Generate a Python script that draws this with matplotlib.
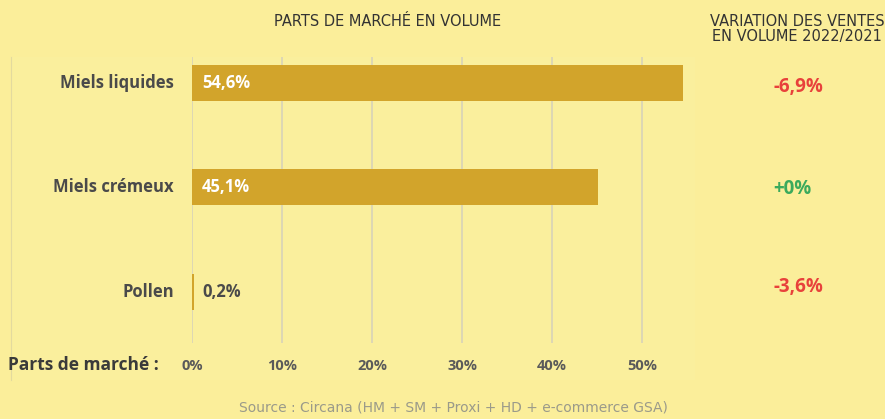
import matplotlib.pyplot as plt
from matplotlib.patches import Rectangle

categories = ["Miels liquides", "Miels crémeux", "Pollen"]
shares = [54.6, 45.1, 0.2]
share_labels = ["54,6%", "45,1%", "0,2%"]
variations = ["-6,9%", "+0%", "-3,6%"]
variation_colors = ["#E8413B", "#3BAA5C", "#E8413B"]
ticks = [0, 10, 20, 30, 40, 50]
tick_labels = ["0%", "10%", "20%", "30%", "40%", "50%"]

W, H = 885, 419
bg = "#FBEE9A"
panel = "#FAEF9D"
bar_color = "#D2A42B"
text_gray = "#4A4A4A"

fig = plt.figure(figsize=(W / 100, H / 100), dpi=100)
fig.patch.set_facecolor(bg)

# slightly lighter panel behind the chart
fig.patches.append(Rectangle((11 / W, 1 - 380 / H), (695 - 11) / W, (380 - 57) / H,
                             transform=fig.transFigure, facecolor=panel,
                             edgecolor="none", zorder=-5))
fig.add_artist(plt.Line2D([11 / W, 11 / W], [1 - 380 / H, 1 - 57 / H],
                          transform=fig.transFigure, color="#E3DA9E", lw=0.8,
                          zorder=-4))

# axes: x=0 at 192 px, 9 px per percent
x0 = 192
xmax = 58
ax = fig.add_axes([x0 / W, 1 - 343 / H, xmax * 9 / W, (343 - 57) / H], zorder=1)
ax.set_facecolor("none")
ypos = [0, 1, 2]
ax.barh(ypos, shares, height=0.345, color=bar_color, zorder=2)
ax.set_xlim(0, xmax)
ax.set_ylim(2.49, -0.25)
for t in ticks:
    ax.axvline(t, color="#D8D3B8", lw=1.2, zorder=1)
for s in ax.spines.values():
    s.set_visible(False)
ax.set_xticks([])
ax.set_yticks([])

for i, (cat, v, lab) in enumerate(zip(categories, shares, share_labels)):
    ax.text(-2.0, i, cat, ha="right", va="center", fontsize=12,
            fontweight="bold", color=text_gray, family="Open Sans")
    col = "white" if v > 5 else text_gray
    ax.text(1.1, i, lab, ha="left", va="center", fontsize=12,
            fontweight="bold", color=col, family="Open Sans", zorder=3)

# variation column
var_y = [87, 189, 287]
for y, v, c in zip(var_y, variations, variation_colors):
    fig.text(773 / W, 1 - y / H, v, ha="left", va="center", fontsize=13.5,
             fontweight="bold", color=c, family="Open Sans")

# tick labels row
for t, lab in zip(ticks, tick_labels):
    fig.text((x0 + t * 9) / W, 1 - 366 / H, lab, ha="center", va="center",
             fontsize=10.5, fontweight="bold", color="#5A5A5A", family="Open Sans")
fig.text(8 / W, 1 - 365 / H, "Parts de marché :", ha="left", va="center",
         fontsize=12.5, fontweight="bold", color="#3A3A3A", family="Open Sans")

# titles
fig.text(388 / W, 1 - 22 / H, "PARTS DE MARCHÉ EN VOLUME", ha="center", va="center",
         fontsize=10.5, color="#333333", family="Liberation Sans Narrow")
fig.text(797 / W, 1 - 29 / H, "VARIATION DES VENTES\nEN VOLUME 2022/2021",
         ha="center", va="center", fontsize=10.5, color="#333333",
         family="Liberation Sans Narrow", linespacing=1.05)
fig.text(453 / W, 1 - 407 / H, "Source : Circana (HM + SM + Proxi + HD + e-commerce GSA)",
         ha="center", va="center", fontsize=10, color="#9A9A8A",
         family="Liberation Sans Narrow")

fig.savefig("out.png", dpi=100, facecolor=bg)
